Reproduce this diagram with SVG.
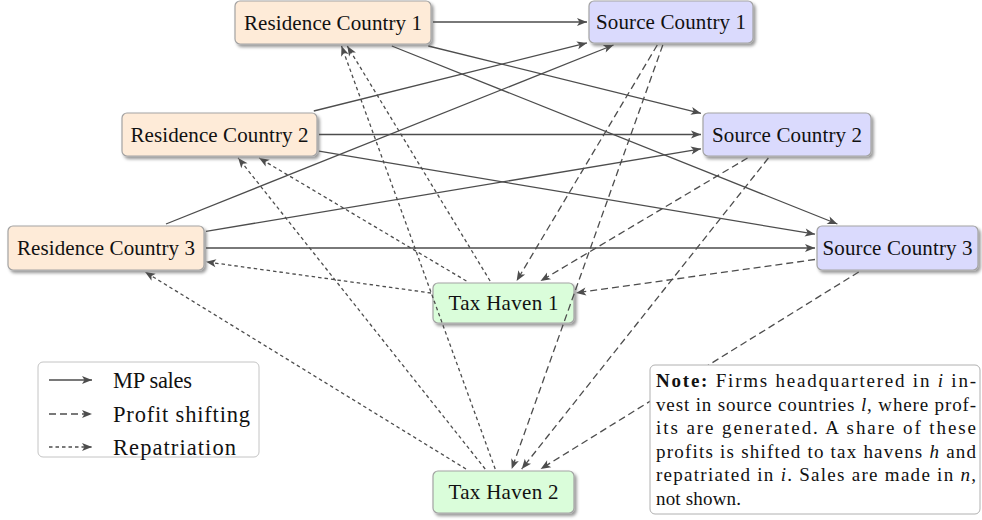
<svg xmlns="http://www.w3.org/2000/svg" width="982" height="520" viewBox="0 0 982 520">
<style>
.lbl{font-family:"Liberation Serif","Times New Roman",serif;font-size:21px;fill:#111;text-anchor:middle}
.box{stroke:#a3a3a3;stroke-width:1.2}
.res{fill:#feebd8}
.src{fill:#dadafd}
.th{fill:#dafdda}
.e{fill:none;stroke:#4d4d4d;stroke-width:1.3;marker-end:url(#ah)}
.ps{stroke-dasharray:7 4}
.rp{stroke-dasharray:3.5 3}
.leg{font-family:"Liberation Serif","Times New Roman",serif;font-size:22.5px;fill:#111}
.note{font-family:"Liberation Serif","Times New Roman",serif;font-size:19px;fill:#111}
.it{font-style:italic}
</style>
<defs>
<marker id="ah" markerUnits="userSpaceOnUse" markerWidth="11" markerHeight="9" refX="10" refY="4" orient="auto" overflow="visible">
<path d="M0,0 L10,4 L0,8 L2.5,4 z" fill="#4d4d4d"/>
</marker>
<filter id="sh" x="-10%" y="-20%" width="125%" height="150%">
<feDropShadow dx="2.2" dy="2.6" stdDeviation="1.6" flood-color="#000" flood-opacity="0.4"/>
</filter>
</defs>
<rect width="982" height="520" fill="#fff"/>

<g id="res1"><rect class="box res" x="235" y="1" width="196" height="43" rx="5" filter="url(#sh)"/><text class="lbl" x="333" y="29.5" textLength="178" lengthAdjust="spacing">Residence Country 1</text></g>
<g id="src1"><rect class="box src" x="589" y="1" width="164" height="42" rx="5" filter="url(#sh)"/><text class="lbl" x="671" y="29" textLength="150" lengthAdjust="spacing">Source Country 1</text></g>
<g id="res2"><rect class="box res" x="122" y="113" width="195" height="43" rx="5" filter="url(#sh)"/><text class="lbl" x="219.5" y="141.5" textLength="178" lengthAdjust="spacing">Residence Country 2</text></g>
<g id="src2"><rect class="box src" x="703" y="113" width="168" height="43" rx="5" filter="url(#sh)"/><text class="lbl" x="787" y="141.5" textLength="150" lengthAdjust="spacing">Source Country 2</text></g>
<g id="res3"><rect class="box res" x="8" y="226" width="196" height="44" rx="5" filter="url(#sh)"/><text class="lbl" x="106" y="255" textLength="178" lengthAdjust="spacing">Residence Country 3</text></g>
<g id="src3"><rect class="box src" x="817" y="226" width="161" height="44" rx="5" filter="url(#sh)"/><text class="lbl" x="897.5" y="255" textLength="150" lengthAdjust="spacing">Source Country 3</text></g>
<g id="th1"><rect class="box th" x="433" y="283" width="141" height="40" rx="5" filter="url(#sh)"/><text class="lbl" x="503.5" y="310" textLength="110" lengthAdjust="spacing">Tax Haven 1</text></g>
<g id="th2"><rect class="box th" x="433" y="471" width="141" height="42" rx="5" filter="url(#sh)"/><text class="lbl" x="503.5" y="499" textLength="110" lengthAdjust="spacing">Tax Haven 2</text></g>

<g id="connectors">
<path class="e" d="M433,22 L587,22"/>
<path class="e" d="M428.3,46 L701,113.3"/>
<path class="e" d="M391.8,46 L837.4,224"/>
<path class="e" d="M313.8,111 L587,42.9"/>
<path class="e" d="M319,134.5 L701,134.5"/>
<path class="e" d="M319,151.2 L815,234.2"/>
<path class="e" d="M166,224 L613.5,45"/>
<path class="e" d="M206,231.3 L701,148.8"/>
<path class="e" d="M206,248 L815,248"/>

<path class="e ps" d="M657.3,45 L516.6,281"/>
<path class="e ps" d="M662.8,45 L511.7,469"/>
<path class="e ps" d="M747.5,158 L540.5,281"/>
<path class="e ps" d="M768.4,158 L521.7,469"/>
<path class="e ps" d="M815,259.5 L576,292.9"/>
<path class="e ps" d="M858.7,272 L540.7,469"/>

<path class="e rp" d="M490.1,281 L347.3,46"/>
<path class="e rp" d="M495.2,469 L341.5,46"/>
<path class="e rp" d="M466.4,281 L259.1,158"/>
<path class="e rp" d="M485.2,469 L238.2,158"/>
<path class="e rp" d="M431,293 L206,261.8"/>
<path class="e rp" d="M466,469 L145.1,272"/>
</g>

<g id="legend">
<rect x="38" y="362" width="221" height="95" rx="5" fill="#fff" stroke="#c4c4c4" stroke-width="1"/>
<path class="e" d="M49,380 L92,380"/>
<path class="e ps" d="M49,414 L92,414"/>
<path class="e rp" d="M49,447 L92,447"/>
<text class="leg" x="113" y="387.5" textLength="79" lengthAdjust="spacing">MP sales</text>
<text class="leg" x="113" y="421.5" textLength="137" lengthAdjust="spacing">Profit shifting</text>
<text class="leg" x="113" y="454.5" textLength="123" lengthAdjust="spacing">Repatriation</text>
</g>

<g id="note">
<rect x="650" y="365" width="330" height="149" rx="5" fill="#fff" stroke="#b0b0b0" stroke-width="1"/>
<text class="note" x="656" y="387" textLength="320" lengthAdjust="spacing"><tspan font-weight="bold">Note:</tspan> Firms headquartered in <tspan class="it">i</tspan> in-</text>
<text class="note" x="656" y="410.5" textLength="320" lengthAdjust="spacing">vest in source countries <tspan class="it">l</tspan>, where prof-</text>
<text class="note" x="656" y="434" textLength="320" lengthAdjust="spacing">its are generated.  A share of these</text>
<text class="note" x="656" y="457.5" textLength="320" lengthAdjust="spacing">profits is shifted to tax havens <tspan class="it">h</tspan> and</text>
<text class="note" x="656" y="481" textLength="320" lengthAdjust="spacing">repatriated in <tspan class="it">i</tspan>. Sales are made in <tspan class="it">n</tspan>,</text>
<text class="note" x="656" y="504.5" textLength="85" lengthAdjust="spacing">not shown.</text>
</g>
</svg>
